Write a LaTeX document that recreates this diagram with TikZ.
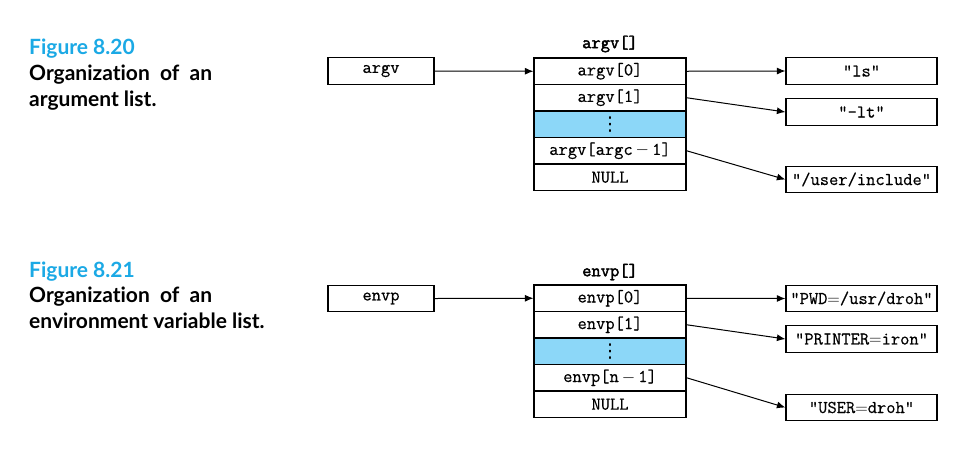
\documentclass[tikz,border=0pt]{standalone}
\usepackage{fontspec}
\setmainfont{Lato}[Ligatures={NoCommon,NoDiscretionary,NoRare}]
\setmonofont{Latin Modern Mono}[FakeBold=0.5, BoldFont={Latin Modern Mono}, BoldFeatures={FakeBold=2.2}]
\newfontfamily\dotsfont{DejaVu Sans}
\usetikzlibrary{arrows.meta}
\definecolor{figblue}{RGB}{27,169,229}
\definecolor{rowblue}{RGB}{140,215,248}
\newcommand\myvdots{{\dotsfont\fontsize{19}{20}\selectfont ⋮}}
\tikzset{
  ttfnt/.style={font=\fontsize{18}{20}\selectfont\ttfamily},
  cell/.style={draw, line width=1.2pt, minimum width=152pt, minimum height=26.5pt, inner sep=0pt, ttfnt},
  strbox/.style={draw, line width=1.2pt, minimum width=151pt, minimum height=26.5pt, inner sep=0pt, ttfnt},
  ptrbox/.style={draw, line width=1.2pt, minimum width=106pt, minimum height=26.5pt, inner sep=0pt, ttfnt},
  ttl/.style={font=\fontsize{18}{20}\selectfont\ttfamily\bfseries, inner sep=0pt},
  arr/.style={-{Latex[length=8.5pt,width=7pt]}, line width=1pt},
  figlabel/.style={anchor=base west, inner sep=0pt, text=figblue, font=\fontsize{21}{24}\selectfont\bfseries},
  captxt/.style={anchor=base west, inner sep=0pt, font=\fontsize{21}{24}\selectfont\bfseries}
}
\begin{document}
\begin{tikzpicture}[x=1pt, y=-1pt]
\useasboundingbox (0,0) rectangle (955,448);
% ---- Figure 8.20
\node[figlabel] (f1) at (29,54) {Figure 8.20};
\node[captxt] (c1a) at (29,80) {Organization\ \ of\ \ an};
\node[captxt] (c1b) at (29,106) {argument list.};
\node[ptrbox] (argv) at (381,71) {argv};
\node[ttl] (argvt) at (610,44) {argv[]};
\node[cell] (a0) at (610,71.25) {argv[0]};
\node[cell] (a1) at (610,97.75) {argv[1]};
\node[cell, fill=rowblue] (a2) at (610,124.25) {\myvdots};
\node[cell] (a3) at (610,150.75) {argv[argc\,$-$\,1]};
\node[cell] (a4) at (610,177.25) {NULL};
\node[strbox] (s0) at (861.5,71) {"ls"};
\node[strbox] (s1) at (861.5,112) {"-lt"};
\node[strbox] (s2) at (861.5,179.5) {"/user/include"};
\draw[arr] (argv.east) -- (a0.west);
\draw[arr] (a0.east) -- (s0.west);
\draw[arr] (a1.east) -- (s1.west);
\draw[arr] (a3.east) -- (s2.west);
% ---- Figure 8.21
\node[figlabel] (f2) at (29,277) {Figure 8.21};
\node[captxt] (c2a) at (29,302) {Organization\ \ of\ \ an};
\node[captxt] (c2b) at (29,328) {environment variable list.};
\node[ptrbox] (envp) at (381,298.5) {envp};
\node[ttl] (envpt) at (610,272) {envp[]};
\node[cell] (e0) at (610,298.25) {envp[0]};
\node[cell] (e1) at (610,324.75) {envp[1]};
\node[cell, fill=rowblue] (e2) at (610,351.25) {\myvdots};
\node[cell] (e3) at (610,377.75) {envp[n\,$-$\,1]};
\node[cell] (e4) at (610,404.25) {NULL};
\node[strbox] (t0) at (861.5,298.5) {"PWD$=$/usr/droh"};
\node[strbox] (t1) at (861.5,339) {"PRINTER$=$iron"};
\node[strbox] (t2) at (861.5,407.5) {"USER$=$droh"};
\draw[arr] (envp.east) -- (e0.west);
\draw[arr] (e0.east) -- (t0.west);
\draw[arr] (e1.east) -- (t1.west);
\draw[arr] (e3.east) -- (t2.west);
\end{tikzpicture}
\end{document}
